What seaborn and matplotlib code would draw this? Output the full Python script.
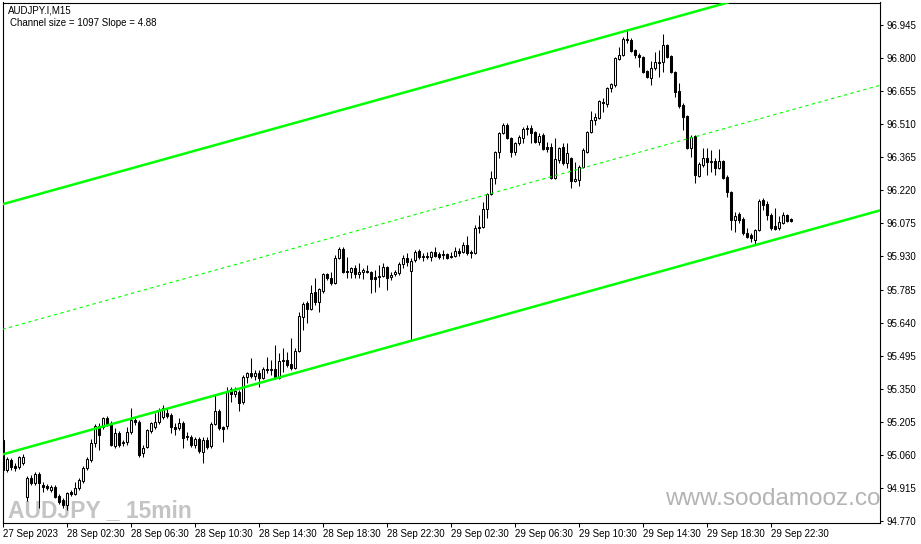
import matplotlib
matplotlib.use("Agg")
import matplotlib.pyplot as plt
import seaborn as sns
from matplotlib import font_manager

# AUDJPY.I, M15 - prices, one value per 15 min bar
opens = [
    95.125, 94.994, 95.038, 95.012, 95.007, 95.025, 94.875, 94.959, 94.937, 94.976,
    94.928, 94.924, 94.906, 94.919, 94.880, 94.862, 94.840, 94.897, 94.888, 94.915,
    94.946, 95.003, 95.038, 95.112, 95.187, 95.182, 95.222, 95.200, 95.099, 95.156,
    95.112, 95.116, 95.160, 95.213, 95.204, 95.068, 95.094, 95.165, 95.182, 95.204,
    95.226, 95.244, 95.235, 95.182, 95.178, 95.200, 95.143, 95.138, 95.103, 95.129,
    95.073, 95.125, 95.099, 95.195, 95.253, 95.182, 95.187, 95.349, 95.327, 95.336,
    95.292, 95.401, 95.419, 95.406, 95.419, 95.397, 95.436, 95.432, 95.436, 95.397,
    95.472, 95.476, 95.458, 95.441, 95.515, 95.664, 95.726, 95.700, 95.774, 95.730,
    95.779, 95.853, 95.836, 95.814, 95.923, 95.963, 95.866, 95.862, 95.879, 95.853,
    95.862, 95.866, 95.862, 95.840, 95.840, 95.844, 95.884, 95.840, 95.853, 95.858,
    95.897, 95.923, 95.866, 95.915, 95.954, 95.928, 95.932, 95.928, 95.950, 95.941,
    95.936, 95.941, 95.928, 95.932, 95.954, 95.950, 95.980, 95.950, 95.945, 96.059,
    96.059, 96.138, 96.204, 96.274, 96.388, 96.471, 96.507, 96.450, 96.388, 96.428,
    96.450, 96.489, 96.493, 96.476, 96.432, 96.463, 96.410, 96.410, 96.274, 96.353,
    96.410, 96.340, 96.362, 96.261, 96.265, 96.322, 96.388, 96.476, 96.529, 96.537,
    96.607, 96.598, 96.669, 96.682, 96.796, 96.813, 96.884, 96.879, 96.835, 96.813,
    96.805, 96.743, 96.713, 96.757, 96.783, 96.783, 96.857, 96.809, 96.739, 96.656,
    96.594, 96.546, 96.406, 96.458, 96.283, 96.331, 96.362, 96.344, 96.349, 96.318,
    96.349, 96.279, 96.213, 96.090, 96.116, 96.094, 96.033, 96.024, 96.002, 96.046,
    96.178, 96.160, 96.112, 96.064, 96.055, 96.077, 96.112, 96.094,
]
highs = [
    95.138, 95.050, 95.046, 95.025, 95.055, 95.063, 94.968, 94.972, 94.985, 94.985,
    94.941, 94.932, 94.928, 94.928, 94.888, 94.871, 94.897, 94.906, 94.941, 94.959,
    95.012, 95.050, 95.129, 95.195, 95.200, 95.226, 95.231, 95.209, 95.178, 95.165,
    95.125, 95.182, 95.266, 95.222, 95.213, 95.103, 95.173, 95.204, 95.244, 95.266,
    95.279, 95.266, 95.244, 95.200, 95.222, 95.209, 95.160, 95.147, 95.138, 95.138,
    95.138, 95.138, 95.204, 95.323, 95.261, 95.187, 95.358, 95.358, 95.358, 95.345,
    95.410, 95.423, 95.485, 95.432, 95.432, 95.445, 95.489, 95.476, 95.542, 95.507,
    95.529, 95.511, 95.573, 95.529, 95.686, 95.730, 95.735, 95.805, 95.836, 95.792,
    95.858, 95.858, 95.862, 95.936, 95.971, 95.971, 95.928, 95.884, 95.893, 95.901,
    95.879, 95.893, 95.866, 95.871, 95.893, 95.901, 95.888, 95.862, 95.871, 95.906,
    95.936, 95.945, 95.923, 95.958, 95.963, 95.945, 95.950, 95.954, 95.971, 95.950,
    95.958, 95.945, 95.950, 95.971, 95.967, 95.993, 96.020, 95.958, 96.068, 96.112,
    96.169, 96.208, 96.305, 96.392, 96.476, 96.515, 96.515, 96.454, 96.432, 96.463,
    96.498, 96.507, 96.507, 96.480, 96.471, 96.471, 96.432, 96.428, 96.450, 96.410,
    96.428, 96.428, 96.366, 96.344, 96.331, 96.406, 96.480, 96.568, 96.559, 96.616,
    96.625, 96.673, 96.691, 96.805, 96.849, 96.892, 96.927, 96.888, 96.840, 96.822,
    96.809, 96.748, 96.787, 96.827, 96.835, 96.905, 96.862, 96.813, 96.743, 96.691,
    96.603, 96.550, 96.463, 96.463, 96.344, 96.406, 96.406, 96.397, 96.362, 96.401,
    96.353, 96.287, 96.217, 96.125, 96.125, 96.103, 96.055, 96.033, 96.050, 96.182,
    96.187, 96.173, 96.121, 96.142, 96.107, 96.125, 96.116, 96.099,
]
lows = [
    94.972, 94.985, 94.994, 94.990, 94.998, 95.016, 94.858, 94.928, 94.928, 94.827,
    94.897, 94.906, 94.897, 94.871, 94.844, 94.827, 94.818, 94.880, 94.884, 94.906,
    94.937, 94.994, 95.029, 95.094, 95.081, 95.173, 95.187, 95.099, 95.090, 95.094,
    95.099, 95.103, 95.151, 95.191, 95.050, 95.050, 95.090, 95.156, 95.173, 95.195,
    95.217, 95.222, 95.156, 95.147, 95.169, 95.090, 95.125, 95.094, 95.090, 95.068,
    95.025, 95.086, 95.090, 95.191, 95.169, 95.116, 95.173, 95.292, 95.314, 95.253,
    95.284, 95.375, 95.397, 95.388, 95.358, 95.393, 95.419, 95.410, 95.393, 95.393,
    95.423, 95.445, 95.432, 95.436, 95.511, 95.608, 95.638, 95.695, 95.717, 95.686,
    95.770, 95.827, 95.805, 95.809, 95.919, 95.858, 95.836, 95.836, 95.836, 95.836,
    95.831, 95.858, 95.770, 95.774, 95.796, 95.840, 95.783, 95.827, 95.844, 95.849,
    95.879, 95.888, 95.564, 95.906, 95.919, 95.910, 95.919, 95.910, 95.928, 95.919,
    95.919, 95.919, 95.923, 95.928, 95.932, 95.945, 95.936, 95.923, 95.941, 96.033,
    96.055, 96.099, 96.200, 96.248, 96.362, 96.467, 96.445, 96.366, 96.375, 96.419,
    96.428, 96.463, 96.428, 96.428, 96.419, 96.397, 96.388, 96.270, 96.270, 96.340,
    96.331, 96.318, 96.230, 96.257, 96.239, 96.318, 96.384, 96.471, 96.507, 96.533,
    96.563, 96.585, 96.651, 96.673, 96.792, 96.809, 96.866, 96.827, 96.800, 96.761,
    96.735, 96.713, 96.682, 96.748, 96.717, 96.739, 96.800, 96.735, 96.629, 96.581,
    96.485, 96.401, 96.366, 96.252, 96.279, 96.322, 96.287, 96.300, 96.287, 96.314,
    96.270, 96.191, 96.046, 96.037, 96.077, 96.024, 96.011, 95.993, 95.980, 96.042,
    96.134, 96.090, 96.046, 96.046, 96.046, 96.073, 96.081, 96.081,
]
closes = [
    94.994, 95.042, 95.007, 95.003, 95.050, 95.050, 94.959, 94.937, 94.976, 94.937,
    94.919, 94.915, 94.919, 94.875, 94.853, 94.840, 94.893, 94.888, 94.915, 94.950,
    95.003, 95.042, 95.112, 95.187, 95.147, 95.222, 95.191, 95.103, 95.156, 95.103,
    95.116, 95.160, 95.213, 95.204, 95.059, 95.090, 95.169, 95.200, 95.204, 95.257,
    95.266, 95.231, 95.182, 95.173, 95.200, 95.134, 95.138, 95.103, 95.129, 95.077,
    95.125, 95.094, 95.195, 95.253, 95.178, 95.173, 95.340, 95.327, 95.340, 95.288,
    95.401, 95.419, 95.406, 95.419, 95.397, 95.436, 95.432, 95.436, 95.397, 95.472,
    95.476, 95.454, 95.441, 95.515, 95.669, 95.722, 95.700, 95.770, 95.730, 95.787,
    95.853, 95.836, 95.814, 95.923, 95.963, 95.862, 95.862, 95.879, 95.853, 95.862,
    95.871, 95.862, 95.831, 95.831, 95.844, 95.884, 95.836, 95.849, 95.862, 95.897,
    95.923, 95.906, 95.910, 95.950, 95.928, 95.932, 95.928, 95.950, 95.932, 95.928,
    95.941, 95.923, 95.932, 95.954, 95.945, 95.980, 95.945, 95.945, 96.055, 96.055,
    96.138, 96.204, 96.274, 96.388, 96.471, 96.507, 96.450, 96.388, 96.428, 96.454,
    96.489, 96.493, 96.471, 96.432, 96.458, 96.401, 96.401, 96.274, 96.357, 96.406,
    96.340, 96.384, 96.261, 96.270, 96.322, 96.397, 96.476, 96.529, 96.542, 96.612,
    96.603, 96.669, 96.686, 96.800, 96.813, 96.884, 96.879, 96.831, 96.813, 96.805,
    96.739, 96.717, 96.757, 96.783, 96.778, 96.857, 96.805, 96.739, 96.651, 96.590,
    96.542, 96.406, 96.454, 96.287, 96.335, 96.362, 96.344, 96.349, 96.318, 96.349,
    96.274, 96.213, 96.090, 96.107, 96.090, 96.033, 96.015, 96.011, 96.046, 96.173,
    96.156, 96.112, 96.055, 96.050, 96.081, 96.112, 96.086, 96.086,
]

# time axis labels (every 16 bars = 4 hours)
time_tick_bars = [0, 16, 32, 48, 64, 80, 96, 112, 128, 144, 160, 176, 192]
time_tick_labels = ["27 Sep 2023", "28 Sep 02:30", "28 Sep 06:30", "28 Sep 10:30",
                    "28 Sep 14:30", "28 Sep 18:30", "28 Sep 22:30", "29 Sep 02:30",
                    "29 Sep 06:30", "29 Sep 10:30", "29 Sep 14:30", "29 Sep 18:30",
                    "29 Sep 22:30"]
price_ticks = [94.770, 94.915, 95.060, 95.205, 95.350, 95.495, 95.640, 95.785,
               95.930, 96.075, 96.220, 96.365, 96.510, 96.655, 96.800, 96.945]

# regression channel: two points on the lower border, width in price
channel_bars = [0, 180]
channel_lower = [95.063, 95.941]
channel_size = 1.097

sns.set_theme(style="white")
plt.rcParams['font.family'] = ['Liberation Sans', 'DejaVu Sans']

names = {f.name for f in font_manager.fontManager.ttflist}
narrow = 'Liberation Sans Narrow' if 'Liberation Sans Narrow' in names else None

W, H = 921, 544
fig = plt.figure(figsize=(W / 100, H / 100), dpi=100)
fig.patch.set_facecolor('white')
ax = fig.add_axes([2.5 / W, (H - 523) / H, (880 - 2.5) / W, (523 - 2.5) / H])
ax.set_facecolor('white')

idx = list(range(len(opens)))

# watermarks (behind candles)
if narrow:
    wm_family, wm_size = [narrow, 'Liberation Sans'], 21
else:
    wm_family, wm_size = ['Liberation Sans', 'DejaVu Sans'], 16.5
ax.text(0.006, 0.012, "AUDJPY _ 15min", transform=ax.transAxes, family=wm_family,
        fontsize=wm_size, fontweight='bold', color='#c4c4c4',
        ha='left', va='baseline', zorder=0)
ax.text(0.755, 0.034, "www.soodamooz.co", transform=ax.transAxes, fontsize=17.5,
        color='#b4b4b4', ha='left', va='baseline', zorder=0, clip_on=True)

# candles
ax.vlines(idx, lows, highs, color='black', linewidth=0.75, zorder=2)
bottoms = [min(o, c) for o, c in zip(opens, closes)]
heights = [max(abs(c - o), 0.0005) for o, c in zip(opens, closes)]
fills = ['white' if c >= o else 'black' for o, c in zip(opens, closes)]
ax.bar(idx, heights, bottom=bottoms, width=0.55, color=fills, edgecolor='black',
       linewidth=0.75, zorder=3)

# channel
p0, p1 = (channel_bars[0], channel_lower[0]), (channel_bars[1], channel_lower[1])
ax.axline(p0, p1, color='#00ff00', linewidth=1.8, zorder=4)
ax.axline((p0[0], p0[1] + channel_size), (p1[0], p1[1] + channel_size),
          color='#00ff00', linewidth=1.8, zorder=4)
ax.axline((p0[0], p0[1] + channel_size / 2), (p1[0], p1[1] + channel_size / 2),
          color='#00ff00', linewidth=0.8, linestyle=(0, (3, 3)), zorder=4)

ax.set_xlim(-0.2, 219.175)
ax.set_ylim(94.7614, 97.0436)

ax.yaxis.tick_right()
ax.set_yticks(price_ticks)
ax.set_yticklabels([f"{p:.3f}" for p in price_ticks])
ax.set_xticks(time_tick_bars)
ax.set_xticklabels(time_tick_labels)
for lab in ax.get_xticklabels():
    lab.set_ha('left')
ax.tick_params(axis='x', bottom=True, direction='out', length=3, width=0.75,
               pad=1.5, labelsize=7, colors='black')
ax.tick_params(axis='y', right=True, left=False, direction='out', length=2.5, width=0.75,
               pad=2, labelsize=7, colors='black')
for sp in ax.spines.values():
    sp.set_visible(True)
    sp.set_color('black')
    sp.set_linewidth(0.8)
ax.grid(False)

fig.text(7.5 / W, 1 - 10.5 / H, "AUDJPY.I,M15", fontsize=7, color='black', va='center')
fig.text(9.5 / W, 1 - 23 / H, "Channel size = 1097 Slope = 4.88", fontsize=7,
         color='black', va='center')

fig.savefig("out.png", dpi=100, facecolor='white')
